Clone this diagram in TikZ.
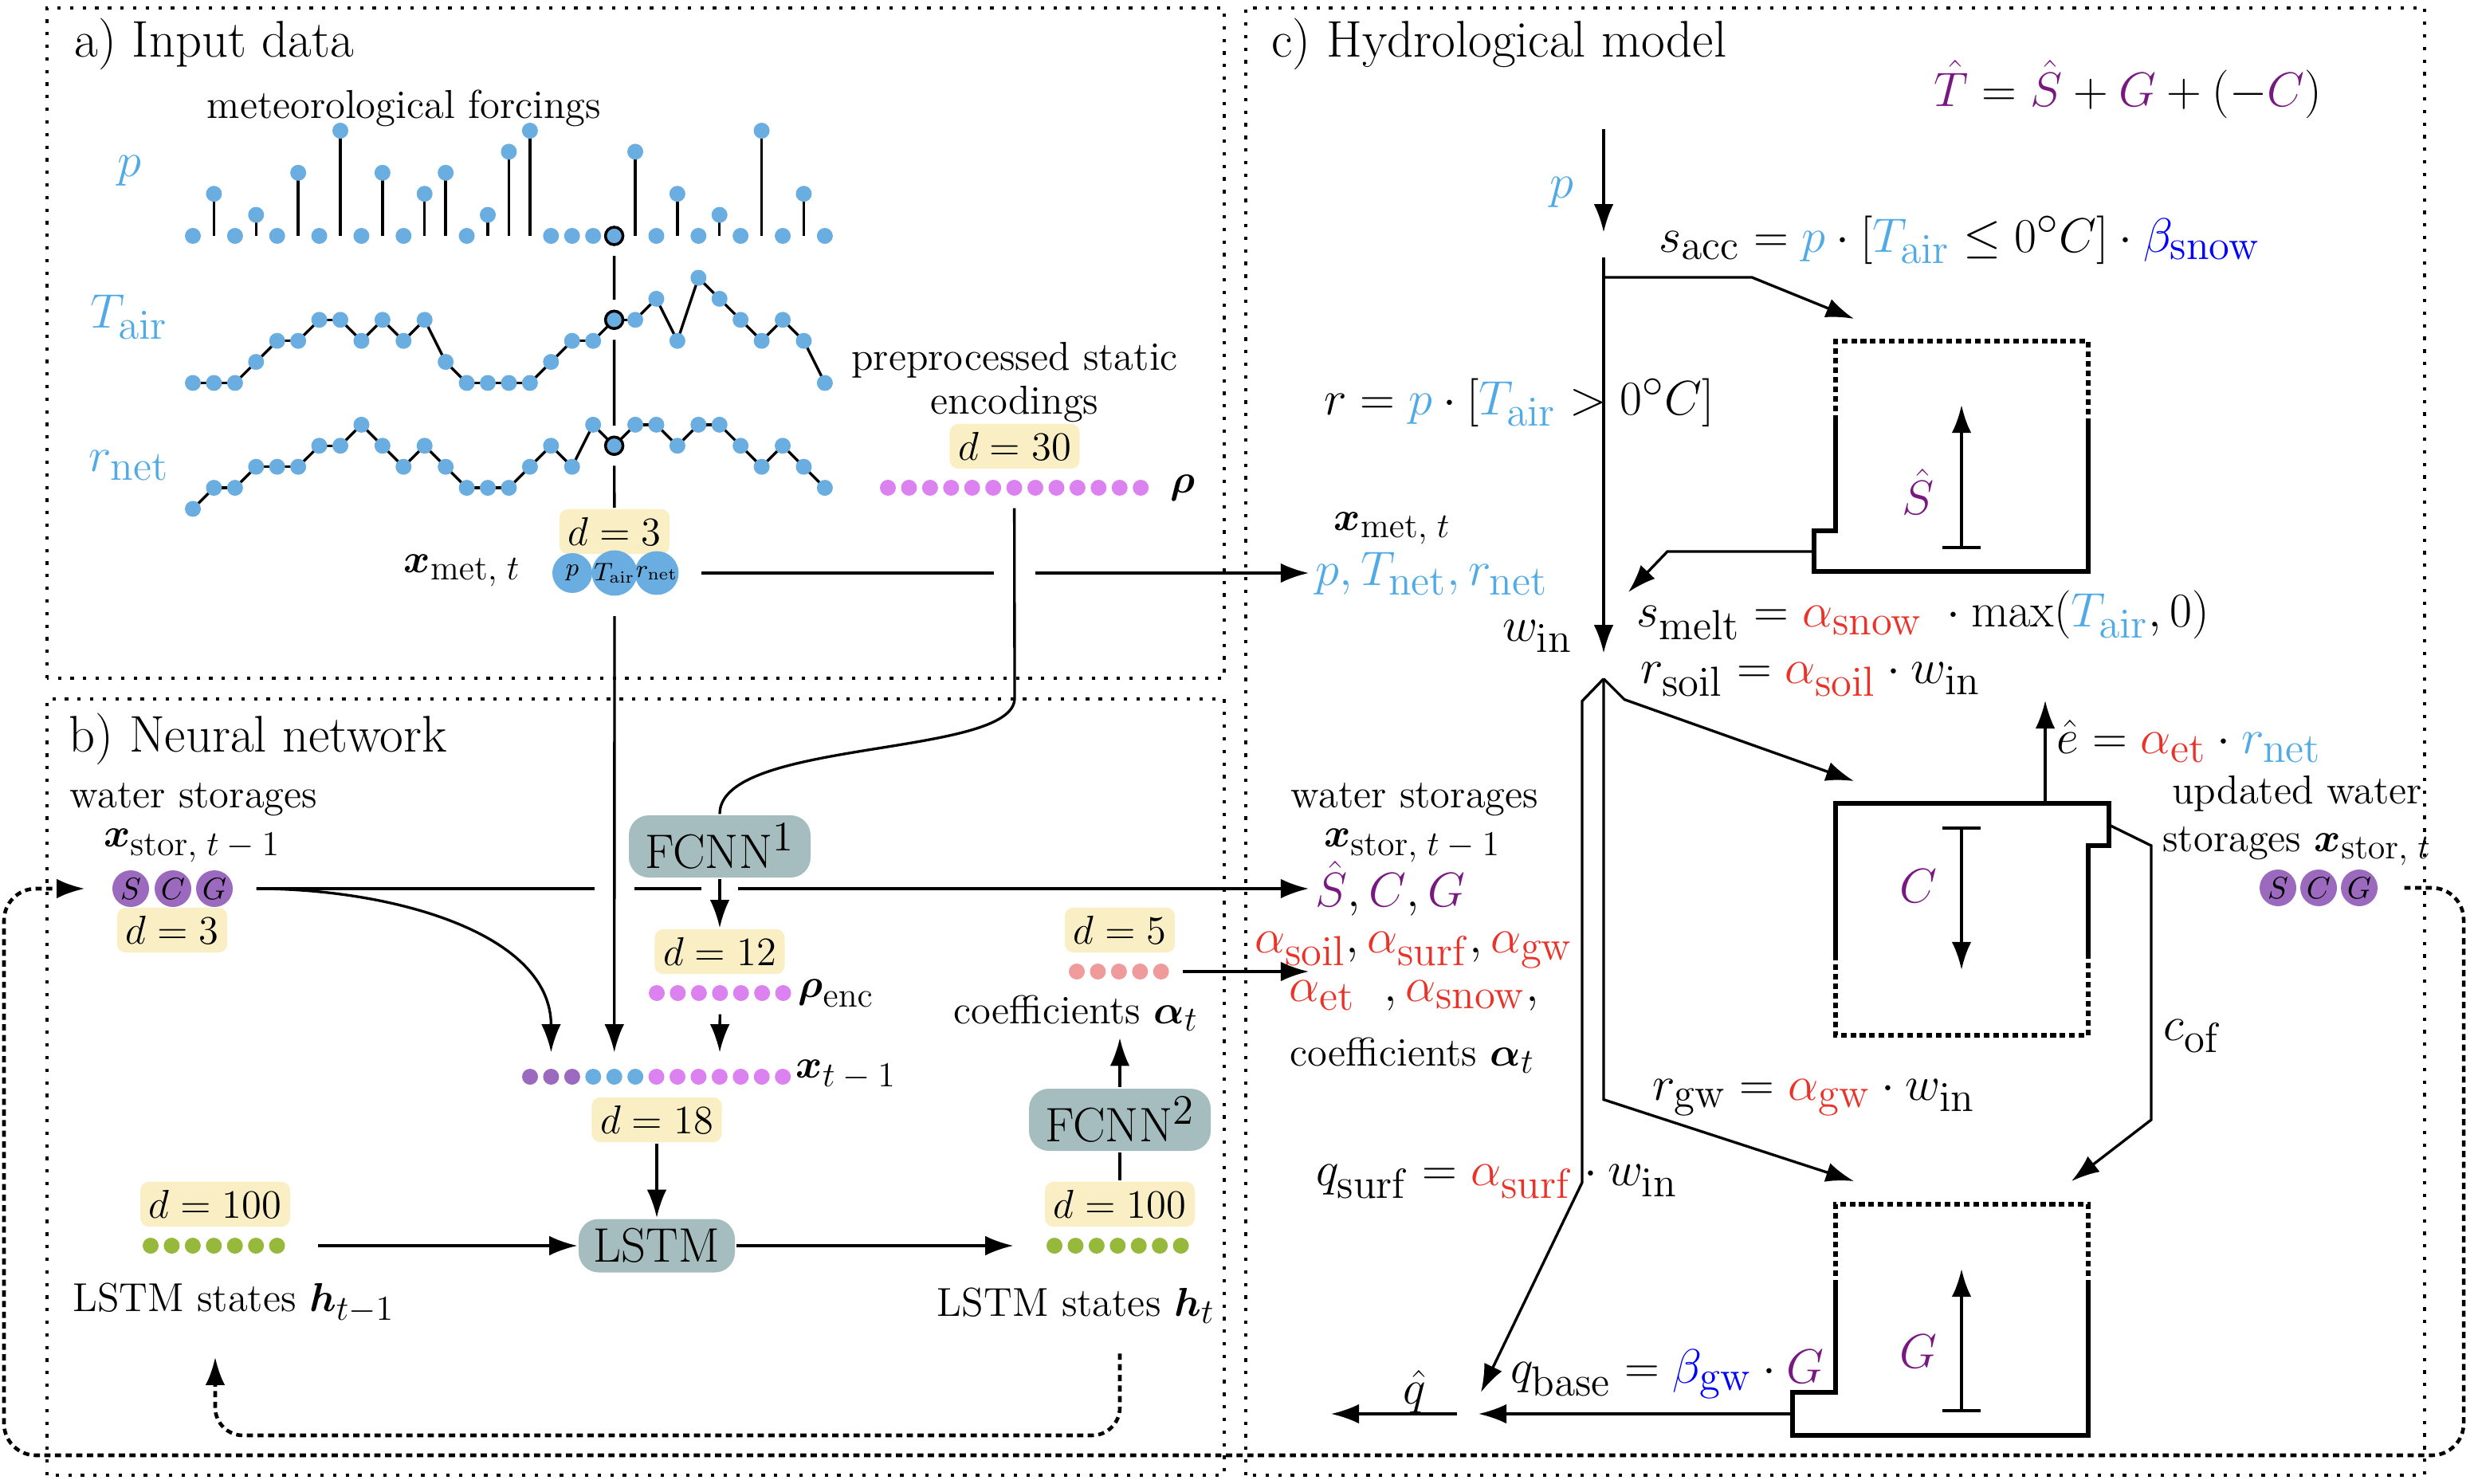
\documentclass[tikz,border=0pt]{standalone}
\usepackage{fix-cm}
\usepackage{amsmath}
\usetikzlibrary{arrows.meta,positioning,calc}

\definecolor{metblue}{RGB}{106,174,225}
\definecolor{txtblue}{RGB}{80,170,230}
\definecolor{storpurple}{RGB}{155,105,190}
\definecolor{txtpurple}{RGB}{120,25,130}
\definecolor{statpink}{RGB}{220,130,240}
\definecolor{coefred}{RGB}{240,155,155}
\definecolor{txtred}{RGB}{235,50,40}
\definecolor{lstmgreen}{RGB}{150,185,60}
\definecolor{nnfill}{RGB}{165,189,190}
\definecolor{dimfill}{RGB}{250,238,196}

\DeclareMathSizes{14.4}{14.4}{12.5}{10}
\DeclareMathSizes{17.28}{17.28}{15}{12}
\newcommand{\fsnorm}{\fontsize{14.4}{17}\selectfont}
\newcommand{\fsbig}{\fontsize{17.28}{21}\selectfont}
\newcommand{\fshead}{\fontsize{18.4}{22}\selectfont}
\newcommand{\cmet}[1]{\textcolor{txtblue}{#1}}
\newcommand{\ccoef}[1]{\textcolor{txtred}{#1}}
\newcommand{\cstor}[1]{\textcolor{txtpurple}{#1}}

\def\pvals{0,2,0,1,0,3,0,5,0,3,0,2,3,0,1,4,5,0,0,0,0,4,0,2,0,1,0,5,0,2,0}
\def\tvals{0,0,0,1,2,2,3,3,2,3,2,3,1,0,0,0,0,1,2,2,3,3,4,2,5,4,3,2,3,2,0}
\def\rvals{0,1,1,2,2,2,3,3,4,3,2,3,2,1,1,1,2,3,2,4,3,4,4,3,4,4,3,2,3,2,1}

\begin{document}
\begin{tikzpicture}[
    >={Latex[length=10pt,width=7pt]},
    line width=0.95pt,
    every node/.style={inner sep=2pt},
    frame/.style={line width=0.9pt, dash pattern=on 1.2pt off 3.3pt},
    loopback/.style={line width=1.3pt, dash pattern=on 2.2pt off 1.6pt, rounded corners=0.4cm},
    bucket/.style={line width=1.5pt},
    bucketopen/.style={line width=1.5pt, dash pattern=on 2pt off 1.4pt},
    level/.style={line width=1.2pt, {Bar[width=0.48cm]}->},
    dot/.style={circle, fill=#1, inner sep=0pt, minimum size=0.2cm},
    picked/.style={circle, fill=metblue, draw=black, line width=1pt, inner sep=0pt, minimum size=0.22cm, outer sep=4pt},
    varball/.style={circle, fill=#1, inner sep=0pt, minimum size=0.5cm, font=\fontsize{9}{10}\selectfont},
    dimbox/.style={fill=dimfill, rounded corners=3pt, inner sep=3pt, font=\fsnorm},
    nnbox/.style={fill=nnfill, rounded corners=0.25cm, minimum width=2.28cm, minimum height=0.78cm, font=\fsbig},
    lbl/.style={font=\fsnorm},
    flux/.style={font=\fsbig},
    paneltitle/.style={font=\fshead, anchor=west}
  ]
  \useasboundingbox (0,0) rectangle (31.04,18.61);

  \draw[frame] (0.59,10.10) rectangle (15.36,18.51);
  \draw[frame] (0.59,0.10) rectangle (15.36,9.84);
  \draw[frame] (15.63,0.10) rectangle (30.42,18.51);

  \node[paneltitle] (ta) at (0.85,18.06) {a) Input data};
  \node[paneltitle] (tb) at (0.78,9.34) {b) Neural network};
  \node[paneltitle] (tc) at (15.87,18.06) {c) Hydrological model};

  \node[lbl] (forcings) at (5.07,17.25) {meteorological forcings};
  \node[flux, text=txtblue] (lp) at (1.62,16.47) {$p$};
  \node[flux, text=txtblue] (lt) at (1.62,14.63) {$T_{\mathrm{air}}$};
  \node[flux, text=txtblue] (lr) at (1.62,12.77) {$r_{\mathrm{net}}$};

  \begin{scope}[shift={(2.42,15.65)}, x=0.2643cm, y=0.264cm]
    \foreach \v [count=\i from 0] in \pvals {
      \ifnum\v>0 \draw (\i,0) -- (\i,\v); \fi
      \ifnum\i=20 \node[picked] (p20) at (\i,\v) {}; \else \node[dot=metblue] (p\i) at (\i,\v) {}; \fi
    }
  \end{scope}
  \begin{scope}[shift={(2.42,13.805)}, x=0.2643cm, y=0.264cm]
    \foreach \v [count=\i from 0, remember=\v as \u (initially 0)] in \tvals {
      \ifnum\i>0 \draw (\i-1,\u) -- (\i,\v); \fi
    }
    \foreach \v [count=\i from 0] in \tvals {
      \ifnum\i=20 \node[picked] (t20) at (\i,\v) {}; \else \node[dot=metblue] (t\i) at (\i,\v) {}; \fi
    }
  \end{scope}
  \begin{scope}[shift={(2.42,12.225)}, x=0.2643cm, y=0.264cm]
    \foreach \v [count=\i from 0, remember=\v as \u (initially 0)] in \rvals {
      \ifnum\i>0 \draw (\i-1,\u) -- (\i,\v); \fi
    }
    \foreach \v [count=\i from 0] in \rvals {
      \ifnum\i=20 \node[picked] (r20) at (\i,\v) {}; \else \node[dot=metblue] (r\i) at (\i,\v) {}; \fi
    }
  \end{scope}

  \node[lbl, align=center, font=\fontsize{14.4}{15.6}\selectfont] (static) at (12.73,13.815) {preprocessed static\\encodings};
  \node[dimbox] (dim30) at (12.73,13.01) {$d=30$};
  \foreach \i in {0,...,12}
    \node[dot=statpink] (rho\i) at (11.14+\i*0.2643,12.49) {};
  \node[lbl] (rholbl) at (14.84,12.49) {$\boldsymbol{\rho}$};

  \node[dimbox] (dim3a) at (7.71,11.94) {$d=3$};
  \node[varball=metblue] (xp) at (7.18,11.42) {$p$};
  \node[varball=metblue] (xt) at (7.71,11.42) {$T_{\mathrm{air}}$};
  \node[varball=metblue] (xr) at (8.24,11.42) {$r_{\mathrm{net}}$};
  \node[lbl, anchor=east] (xmetlbl) at (6.62,11.45) {$\boldsymbol{x}_{\mathrm{met},\;t}$};
  \draw (p20) -- (t20) -- (r20) -- (dim3a);

  \node[lbl] (wsb) at (2.43,8.58) {water storages};
  \node[lbl] (xstorb) at (2.41,8.00) {$\boldsymbol{x}_{\mathrm{stor},\;t\:-\:1}$};
  \foreach \s/\x [count=\k] in {S/1.64,C/2.17,G/2.69}
    \node[varball=storpurple, minimum size=0.46cm, font=\fontsize{10.95}{12}\selectfont] (scg\k) at (\x,7.46) {$\s$};
  \node[dimbox] (dim3b) at (2.16,6.94) {$d=3$};

  \node[nnbox] (fcnn1) at (9.03,7.99) {FCNN$^1$};
  \node[dimbox] (dim12) at (9.03,6.67) {$d=12$};
  \foreach \i in {0,...,6}
    \node[dot=statpink] (enc\i) at (8.24+\i*0.2643,6.15) {};
  \node[lbl, anchor=west] (enclbl) at (9.93,6.15) {$\boldsymbol{\rho}_{\mathrm{enc}}$};

  \foreach \c [count=\i from 0] in {storpurple,storpurple,storpurple,metblue,metblue,metblue,statpink,statpink,statpink,statpink,statpink,statpink,statpink}
    \node[dot=\c] (xin\i) at (6.65+\i*0.2643,5.10) {};
  \node[lbl, anchor=west] (xinlbl) at (9.90,5.12) {$\boldsymbol{x}_{t\:-\:1}$};
  \node[dimbox] (dim18) at (8.24,4.56) {$d=18$};
  \node[nnbox, minimum width=1.96cm, minimum height=0.67cm] (lstm) at (8.24,2.98) {LSTM};

  \node[dimbox] (dim100a) at (2.70,3.50) {$d=100$};
  \foreach \i in {0,...,6}
    \node[dot=lstmgreen] (ha\i) at (1.89+\i*0.2643,2.98) {};
  \node[lbl] (hstatea) at (2.93,2.26) {LSTM states $\boldsymbol{h}_{t-1}$};

  \node[dimbox] (dim100b) at (14.05,3.50) {$d=100$};
  \foreach \i in {0,...,6}
    \node[dot=lstmgreen] (hb\i) at (13.23+\i*0.2643,2.98) {};
  \node[lbl] (hstateb) at (13.50,2.23) {LSTM states $\boldsymbol{h}_t$};
  \node[nnbox] (fcnn2) at (14.05,4.56) {FCNN$^2$};
  \node[lbl] (coeflbl) at (13.50,5.90) {coefficients $\boldsymbol{\alpha}_t$};
  \foreach \i in {0,...,4}
    \node[dot=coefred] (cf\i) at (13.51+\i*0.2643,6.42) {};
  \node[dimbox] (dim5) at (14.05,6.94) {$d=5$};

  \node[flux] (tbal) at (26.70,17.49) {$\cstor{\hat T} = \cstor{\hat S} + \cstor{G} + (-\cstor{C})$};
  \coordinate (ptop) at (20.12,16.99);
  \node[inner sep=0pt, minimum height=0.28cm] (pin) at (20.12,15.54) {};
  \node[inner sep=0pt, minimum height=0.29cm] (winj) at (20.12,10.255) {};
  \node[flux, text=txtblue] (plbl) at (19.59,16.20) {$p$};
  \node[flux, anchor=west] (sacc) at (20.73,15.60) {$s_{\mathrm{acc}} = \cmet{p}\cdot[\cmet{T_{\mathrm{air}}} \leq 0^\circ C]\cdot\textcolor{blue}{\beta_{\mathrm{snow}}}$};
  \node[flux] (rainlbl) at (19.06,13.56) {$r = \cmet{p}\cdot[\cmet{T_{\mathrm{air}}} > 0^\circ C]$};
  \node[flux, anchor=west] (melt) at (20.45,10.89) {$s_{\mathrm{melt}} = \ccoef{\alpha_{\mathrm{snow}}}\;\cdot\max(\cmet{T_{\mathrm{air}}},0)$};
  \node[lbl] (xmetc) at (17.47,11.98) {$\boldsymbol{x}_{\mathrm{met},\;t}$};
  \node[flux, anchor=west, text=txtblue] (ptr) at (16.42,11.41) {$p, T_{\mathrm{net}}, r_{\mathrm{net}}$};
  \node[flux] (winlbl) at (19.29,10.63) {$w_{\mathrm{in}}$};
  \node[flux, anchor=west] (soil) at (20.50,10.09) {$r_{\mathrm{soil}} = \ccoef{\alpha_{\mathrm{soil}}}\cdot w_{\mathrm{in}}$};

  \draw[bucketopen] (23.03,13.33) -- (23.03,14.33) -- (26.20,14.33) -- (26.20,13.33);
  \draw[bucket] (23.03,13.33) -- (23.03,11.95) -- (22.76,11.95) -- (22.76,11.44) -- (26.20,11.44) -- (26.20,13.33);
  \draw[level] (24.61,11.72) -- (24.61,13.53);
  \node[flux, text=txtpurple] (shat) at (24.07,12.44) {$\hat S$};

  \draw[bucket] (23.03,6.63) -- (23.03,8.53) -- (26.46,8.53) -- (26.46,8.00) -- (26.20,8.00) -- (26.20,6.63);
  \draw[bucketopen] (23.03,6.63) -- (23.03,5.62) -- (26.20,5.62) -- (26.20,6.63);
  \draw[level] (24.61,8.24) -- (24.61,6.44);
  \node[flux, text=txtpurple] (clbl) at (24.07,7.49) {$C$};

  \draw[bucketopen] (23.03,2.48) -- (23.03,3.50) -- (26.20,3.50) -- (26.20,2.48);
  \draw[bucket] (23.03,2.48) -- (23.03,1.14) -- (22.49,1.14) -- (22.49,0.60) -- (26.20,0.60) -- (26.20,2.48);
  \draw[level] (24.61,0.89) -- (24.61,2.69);
  \node[flux, text=txtpurple] (glbl) at (24.07,1.65) {$G$};

  \coordinate (accoff) at (20.12,15.13);
  \coordinate (snowin) at (23.26,14.61);
  \coordinate (meltout) at (22.76,11.69);
  \coordinate (meltin) at (20.43,11.18);
  \coordinate (soilin) at (23.26,8.81);
  \coordinate (gwin) at (23.26,3.79);
  \coordinate (etbase) at (25.66,8.53);
  \coordinate (ettop) at (25.66,9.82);
  \coordinate (cofout) at (26.46,8.26);
  \coordinate (cofin) at (25.99,3.79);
  \coordinate (baseout) at (22.49,0.87);
  \coordinate (qj) at (18.42,0.87);
  \coordinate (qsurfin) at (18.58,1.14);
  \coordinate (qout) at (16.70,0.87);

  \draw[->] (ptop) -- (pin);
  \draw[->] (pin) -- (winj);
  \draw[->] (accoff) -- ++(1.86,0) -- (snowin);
  \draw[->] (meltout) -- ++(-1.84,0) -- (meltin);
  \draw[->] (winj.south) -- ++(0.26,-0.26) -- (soilin);
  \draw[->] (winj.south) -- ++(0,-5.28) -- (gwin);
  \draw[->] (winj.south) -- ++(-0.27,-0.28) -- ++(0,-6.04) -- (qsurfin);
  \draw[->] (etbase) -- (ettop);
  \draw[->] (cofout) -- ++(0.53,-0.26) -- ++(0,-3.44) -- (cofin);
  \draw[->] (baseout) -- ([xshift=0.13cm]qj);
  \draw[->] ([xshift=-0.14cm]qj) -- (qout);

  \node[flux, anchor=west] (etlbl) at (25.72,9.31) {$\hat e = \ccoef{\alpha_{\mathrm{et}}}\cdot\cmet{r_{\mathrm{net}}}$};
  \node[flux] (coflbl) at (27.51,5.61) {$c_{\mathrm{of}}$};
  \node[lbl, align=center] (updlbl) at (28.82,8.31) {updated water\\storages $\boldsymbol{x}_{\mathrm{stor},\;t}$};
  \foreach \s/\x [count=\k] in {S/28.58,C/29.09,G/29.60}
    \node[varball=storpurple, minimum size=0.46cm, font=\fontsize{10.95}{12}\selectfont] (scgr\k) at (\x,7.47) {$\s$};

  \node[lbl] (wsc) at (17.75,8.58) {water storages};
  \node[lbl] (xstorc) at (17.72,8.00) {$\boldsymbol{x}_{\mathrm{stor},\;t\:-\:1}$};
  \node[flux, anchor=west] (shatlbl) at (16.42,7.46) {$\cstor{\hat S}, \cstor{C}, \cstor{G}$};
  \node[flux] (alpha1) at (17.74,6.69) {$\ccoef{\alpha_{\mathrm{soil}}}, \ccoef{\alpha_{\mathrm{surf}}}, \ccoef{\alpha_{\mathrm{gw}}}$};
  \node[flux] (alpha2) at (17.74,6.12) {$\ccoef{\alpha_{\mathrm{et}}}\ \ , \ccoef{\alpha_{\mathrm{snow}}},$};
  \node[lbl] (coefc) at (17.72,5.37) {coefficients $\boldsymbol{\alpha}_t$};
  \node[flux, anchor=west] (gwlbl) at (20.65,4.84) {$r_{\mathrm{gw}} = \ccoef{\alpha_{\mathrm{gw}}}\cdot w_{\mathrm{in}}$};
  \node[flux] (surflbl) at (18.78,3.79) {$q_{\mathrm{surf}} = \ccoef{\alpha_{\mathrm{surf}}}\cdot w_{\mathrm{in}}$};
  \node[flux] (baselbl) at (20.92,1.37) {$q_{\mathrm{base}} = \textcolor{blue}{\beta_{\mathrm{gw}}}\cdot\cstor{G}$};
  \node[flux] (qhat) at (17.75,1.15) {$\hat q$};

  \draw[shorten <=0.27cm] (xr) -- ([xshift=-0.26cm]rho6 |- xr);
  \draw[->] ([xshift=0.26cm]rho6 |- xr) -- (ptr.west |- xr);
  \draw[shorten <=0.14cm] (rho6) -- (12.73,9.85) .. controls +(0,-0.75) and +(0,0.95) .. (fcnn1.north);
  \draw[->, shorten <=0.24cm, shorten >=0.19cm] (xt) -- (xin4);
  \draw[->] ([xshift=0.28cm]scg3.east) -- ([xshift=-0.25cm]xt |- scg3) ([xshift=0.25cm]xt |- scg3) -- ([xshift=-0.23cm]fcnn1 |- scg3) ([xshift=0.23cm]fcnn1 |- scg3) -- (shatlbl.west);
  \draw[->, shorten >=0.19cm] ([xshift=0.28cm]scg3.east) to[out=0,in=90] (xin1);
  \draw[->] (fcnn1) -- (dim12);
  \draw[->, shorten <=0.15cm, shorten >=0.19cm] (enc3) -- (xin9);
  \draw[->] (dim18) -- (lstm);
  \draw[->, shorten <=0.4cm] (ha6) -- (lstm);
  \draw[->, shorten >=0.4cm] (lstm) -- (hb0);
  \draw (dim100b) -- (fcnn2);
  \draw[->] (fcnn2) -- (coeflbl.south -| fcnn2);
  \draw[->, shorten <=0.16cm] (cf4) -- (cf4 -| shatlbl.west);

  \coordinate (lowrun) at (0,0.60);
  \draw[loopback, ->, rounded corners=0.35cm, shorten <=0.29cm, shorten >=0.34cm] (hstateb.south -| dim100b) -- (lowrun -| dim100b) -- (lowrun -| dim100a) -- (hstatea.south -| dim100a);
  \coordinate (loopr) at (30.91,0.35);
  \coordinate (loopl) at (0.05,0.35);
  \draw[loopback, ->] ([xshift=0.32cm]scgr3.east) -- (loopr |- scgr3) -- (loopr) -- (loopl) -- (loopl |- scg1) -- ([xshift=-0.33cm]scg1.west);
\end{tikzpicture}
\end{document}
